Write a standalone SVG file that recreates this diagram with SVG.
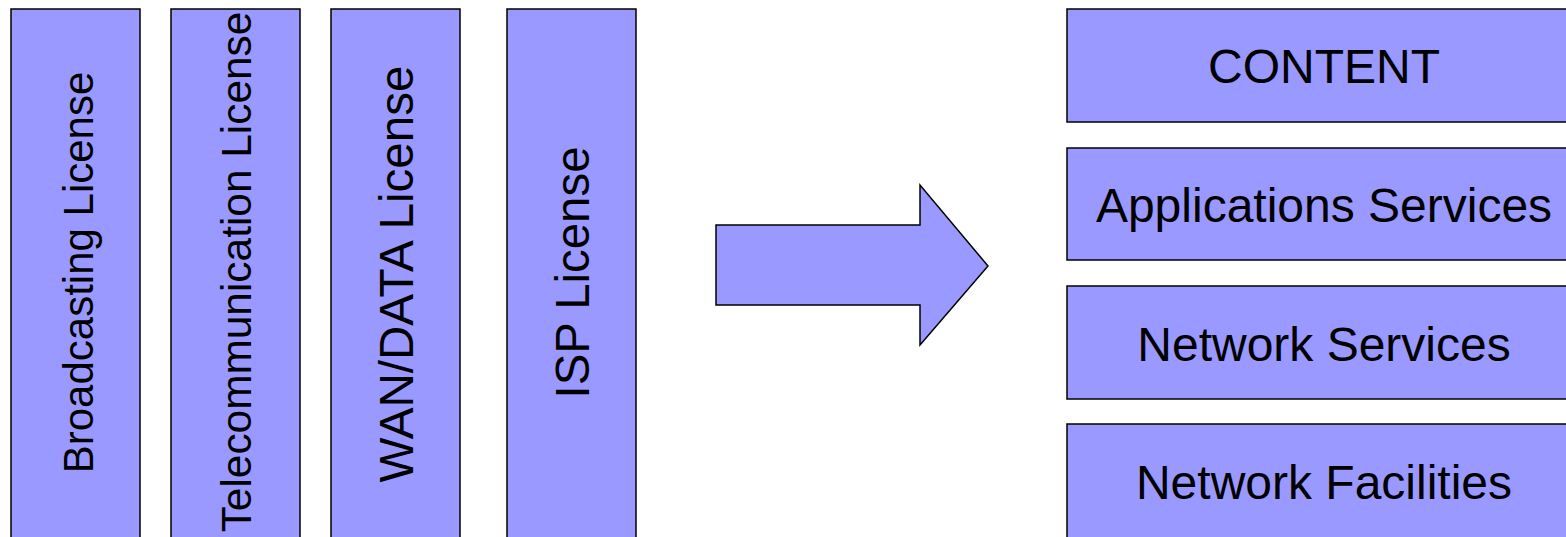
<svg xmlns="http://www.w3.org/2000/svg" width="1566" height="537" viewBox="0 0 1566 537">
  <style>
    .box { fill: #9999FF; stroke: #000000; stroke-width: 1.5; }
    .lbl { font-family: "Liberation Sans", Arial, sans-serif; fill: #000000; }
    .vl { text-anchor: middle; }
    .hl { text-anchor: middle; font-size: 48px; }
  </style>
  <rect width="1566" height="537" fill="#FFFFFF"/>

  <!-- License columns (vertical labels read bottom to top) -->
  <g id="broadcasting-license">
    <rect class="box" x="11" y="9" width="129" height="540"/>
    <text class="lbl vl" font-size="42" transform="translate(92.5,272.5) rotate(-90)">Broadcasting License</text>
  </g>
  <g id="telecommunication-license">
    <rect class="box" x="171" y="9" width="129" height="540"/>
    <text class="lbl vl" font-size="42.4" transform="translate(251,272) rotate(-90)">Telecommunication License</text>
  </g>
  <g id="wan-data-license">
    <rect class="box" x="331" y="9" width="129" height="540"/>
    <text class="lbl vl" font-size="47.6" transform="translate(413,274) rotate(-90)">WAN/DATA License</text>
  </g>
  <g id="isp-license">
    <rect class="box" x="507" y="9" width="129" height="540"/>
    <text class="lbl vl" font-size="47.4" transform="translate(589,272.5) rotate(-90)">ISP License</text>
  </g>

  <!-- Block arrow between the two sides -->
  <g id="connectors">
    <polygon class="box" points="716,225 920,225 920,185 988,266 920,345 920,305 716,305"/>
  </g>

  <!-- Service layers -->
  <g id="content">
    <rect class="box" x="1067" y="9" width="520" height="113"/>
    <text class="lbl hl" x="1324" y="83">CONTENT</text>
  </g>
  <g id="applications-services">
    <rect class="box" x="1067" y="148" width="520" height="112"/>
    <text class="lbl hl" x="1324" y="221.5">Applications Services</text>
  </g>
  <g id="network-services">
    <rect class="box" x="1067" y="286" width="520" height="113"/>
    <text class="lbl hl" x="1324" y="360.5">Network Services</text>
  </g>
  <g id="network-facilities">
    <rect class="box" x="1067" y="424" width="520" height="130"/>
    <text class="lbl hl" x="1324" y="499">Network Facilities</text>
  </g>
</svg>
